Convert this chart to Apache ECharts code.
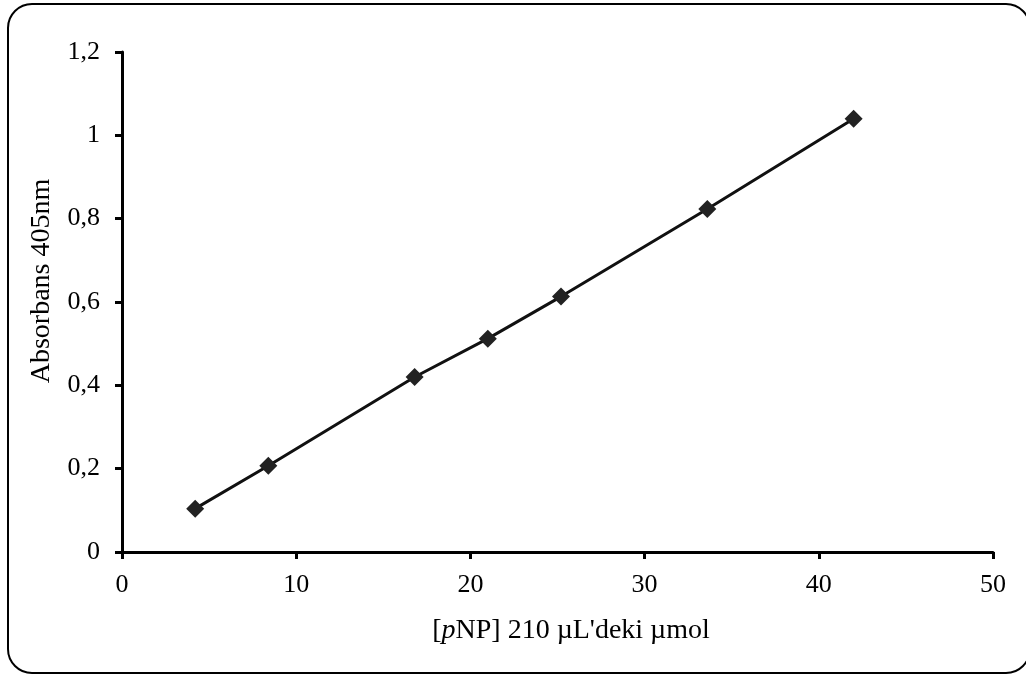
<!DOCTYPE html>
<html>
<head>
<meta charset="utf-8">
<script src="https://cdn.jsdelivr.net/npm/echarts@6/dist/echarts.min.js"></script>
<style>
html,body{margin:0;padding:0;background:#fff;}
#chart{width:1026px;height:675px;}
</style>
</head>
<body>
<div id="chart"></div>
<script>
const xValues = [4.2, 8.4, 16.8, 21, 25.2, 33.6, 42];
const yValues = [0.104, 0.207, 0.42, 0.512, 0.613, 0.823, 1.04];
const xAxisTitle = "[pNP] 210 µL'deki µmol";
const yAxisTitle = "Absorbans 405nm";

const font = "'Liberation Serif', 'Times New Roman', serif";
const chart = echarts.init(document.getElementById('chart'));
const fmt = v => String(Math.round(v * 10) / 10).replace('.', ',');

chart.setOption({
  animation: false,
  backgroundColor: '#fff',
  graphic: [{
    type: 'rect',
    shape: {x: 8, y: 4, width: 1022, height: 669, r: 24},
    style: {fill: 'none', stroke: '#000', lineWidth: 2},
    z: -1
  }, {
    type: 'text',
    x: 571, y: 631,
    style: {
      rich: {
        n: {fontFamily: font, fontSize: 28, fill: '#000'},
        i: {fontFamily: font, fontSize: 28, fontStyle: 'italic', fill: '#000'}
      },
      text: '{n|[}{i|p}{n|NP] 210 µL\'deki µmol}',
      align: 'center', verticalAlign: 'middle'
    }
  }, {
    type: 'text',
    x: 42, y: 281, rotation: Math.PI / 2,
    style: {
      text: yAxisTitle,
      fontFamily: font, fontSize: 28, fill: '#000',
      align: 'center', verticalAlign: 'middle'
    }
  }],
  grid: {left: 122, right: 33, top: 52, bottom: 123},
  xAxis: {
    type: 'value', min: 0, max: 50, interval: 10,
    axisLine: {show: true, lineStyle: {color: '#000', width: 3}},
    axisTick: {show: true, length: 7, lineStyle: {color: '#000', width: 3}},
    axisLabel: {color: '#000', fontFamily: font, fontSize: 26, margin: 20},
    splitLine: {show: false}
  },
  yAxis: {
    type: 'value', min: 0, max: 1.2, interval: 0.2,
    axisLine: {show: true, lineStyle: {color: '#000', width: 3}},
    axisTick: {show: true, length: 7, lineStyle: {color: '#000', width: 3}},
    axisLabel: {color: '#000', fontFamily: font, fontSize: 26, margin: 22, formatter: fmt},
    splitLine: {show: false}
  },
  series: [{
    type: 'line',
    data: xValues.map((x, i) => [x, yValues[i]]),
    symbol: 'diamond', symbolSize: 18,
    itemStyle: {color: '#222'},
    lineStyle: {color: '#111', width: 3},
    z: 3
  }]
});
</script>
</body>
</html>
